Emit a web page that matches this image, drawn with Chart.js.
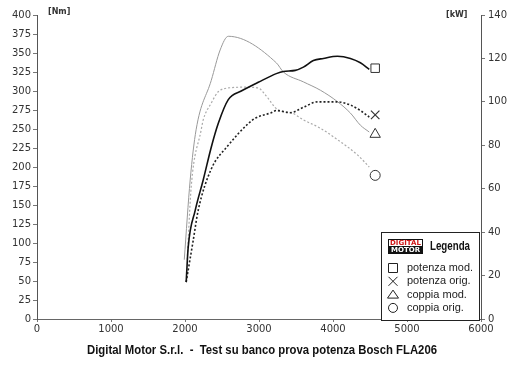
<!DOCTYPE html>
<html>
<head>
<meta charset="utf-8">
<script src="https://cdn.jsdelivr.net/npm/chart.js@4/dist/chart.umd.min.js"></script>
<style>
  html, body { margin: 0; padding: 0; background: #fff; }
  #wrap { width: 520px; height: 367px; }
</style>
</head>
<body>
<div id="wrap"><canvas id="bench" width="520" height="367"></canvas></div>
<script>
// Data
const rpmPotMod = [2016, 2043, 2138, 2246, 2354, 2449, 2585, 2760, 2990, 3234, 3330, 3490, 3600, 3735, 3870, 4060, 4235, 4370, 4490];
const potMod    = [17, 33, 50, 64, 79, 90, 101, 105, 109, 113, 114, 114.5, 116, 119, 120, 121, 120, 118, 115];

const rpmPotOrig = [2016, 2110, 2178, 2354, 2585, 2855, 2950, 3165, 3234, 3425, 3600, 3790, 4060, 4235, 4370, 4490];
const potOrig    = [17, 36, 50, 69, 80, 90, 92.5, 95, 96, 95, 97.5, 100, 100, 98.5, 96, 93];

const rpmCopMod = [1990, 2070, 2150, 2355, 2475, 2585, 3235, 3330, 3600, 3830, 4060, 4235, 4370, 4490];
const copMod    = [78, 183, 249, 314, 354, 372, 337, 325, 312, 301, 286, 271, 255, 246];

const rpmCopOrig = [2030, 2084, 2219, 2246, 2354, 2449, 2585, 2815, 2990, 3085, 3260, 3425, 3600, 3830, 4060, 4330, 4490];
const copOrig    = [78, 174, 249, 262, 284, 299, 304, 305, 304, 295, 275, 272, 262, 251, 236, 216, 200];

// end-of-curve markers
const markerRpm = 4570;
const markerPotMod = 115.5;
const markerPotOrig = 94;
const markerCopMod = 243;
const markerCopOrig = 189;

const legendLabels = ['potenza mod.', 'potenza orig.', 'coppia mod.', 'coppia orig.'];
const legendSymbols = ['rect', 'cross', 'triangle', 'circle'];

function toPoints(xs, ys) {
  return xs.map((x, i) => ({ x: x, y: ys[i] }));
}

const tickFont = { family: 'DejaVu Sans', size: 10 };

function drawSymbol(ctx, kind, cx, cy, r) {
  ctx.beginPath();
  if (kind === 'rect') {
    ctx.rect(cx - r, cy - r, 2 * r, 2 * r);
  } else if (kind === 'cross') {
    ctx.moveTo(cx - r, cy - r); ctx.lineTo(cx + r, cy + r);
    ctx.moveTo(cx + r, cy - r); ctx.lineTo(cx - r, cy + r);
  } else if (kind === 'triangle') {
    ctx.moveTo(cx, cy - r); ctx.lineTo(cx + r + 1, cy + r - 1); ctx.lineTo(cx - r - 1, cy + r - 1); ctx.closePath();
  } else {
    ctx.arc(cx, cy, r, 0, Math.PI * 2);
  }
  ctx.stroke();
}

// Legend box, units and title drawn on top of the chart
const decorPlugin = {
  id: 'decor',
  afterDraw(chart) {
    const ctx = chart.ctx;
    ctx.save();

    // units
    ctx.fillStyle = '#333';
    ctx.font = 'bold 8px "DejaVu Sans"';
    ctx.textBaseline = 'middle';
    ctx.textAlign = 'left';
    ctx.fillText('[Nm]', 48, 12);
    ctx.fillText('[kW]', 446, 15);

    // title
    ctx.fillStyle = '#111';
    ctx.font = 'bold 13px "Liberation Sans"';
    ctx.textAlign = 'center';
    ctx.fillText('Digital Motor S.r.l.  -  Test su banco prova potenza Bosch FLA206', 262, 350, 350);

    // legend box
    ctx.fillStyle = '#fff';
    ctx.fillRect(381, 232, 98, 88);
    ctx.strokeStyle = '#222';
    ctx.lineWidth = 1;
    ctx.strokeRect(381.5, 232.5, 98, 88);

    // logo
    ctx.fillStyle = '#111';
    ctx.fillRect(388, 239, 35, 15);
    ctx.fillStyle = '#fff';
    ctx.fillRect(389, 240, 33, 6);
    ctx.font = 'bold 7px "DejaVu Sans"';
    ctx.fillStyle = '#d01818';
    ctx.fillText('DIGITAL', 405.5, 243.5, 32);
    ctx.fillStyle = '#fff';
    ctx.fillText('MOTOR', 405.5, 250.5, 32);

    ctx.fillStyle = '#111';
    ctx.font = 'bold 12px "Liberation Sans"';
    ctx.textAlign = 'left';
    ctx.fillText('Legenda', 430, 247, 40);

    ctx.font = '11px "Liberation Sans"';
    ctx.strokeStyle = '#222';
    legendLabels.forEach((label, i) => {
      const y = 268 + i * 13.3;
      drawSymbol(ctx, legendSymbols[i], 393, y, 4.5);
      ctx.fillStyle = '#222';
      ctx.fillText(label, 407, y, 66);
    });
    ctx.restore();
  }
};

new Chart(document.getElementById('bench').getContext('2d'), {
  type: 'line',
  data: {
    datasets: [
      {
        label: 'potenza mod.',
        data: toPoints(rpmPotMod, potMod),
        yAxisID: 'y1',
        borderColor: '#111',
        borderWidth: 1.6,
        pointRadius: 0,
        cubicInterpolationMode: 'monotone'
      },
      {
        label: 'potenza orig.',
        data: toPoints(rpmPotOrig, potOrig),
        yAxisID: 'y1',
        borderColor: '#222',
        borderWidth: 1.6,
        borderDash: [2, 2],
        pointRadius: 0,
        cubicInterpolationMode: 'monotone'
      },
      {
        label: 'coppia mod.',
        data: toPoints(rpmCopMod, copMod),
        yAxisID: 'y',
        borderColor: '#999',
        borderWidth: 1,
        pointRadius: 0,
        cubicInterpolationMode: 'monotone'
      },
      {
        label: 'coppia orig.',
        data: toPoints(rpmCopOrig, copOrig),
        yAxisID: 'y',
        borderColor: '#aaa',
        borderWidth: 1.2,
        borderDash: [2, 2],
        pointRadius: 0,
        cubicInterpolationMode: 'monotone'
      },
      {
        label: 'marker potenza mod.',
        data: [{ x: markerRpm, y: markerPotMod }],
        yAxisID: 'y1',
        showLine: false,
        pointStyle: 'rect',
        pointRadius: 6,
        borderColor: '#333',
        borderWidth: 1,
        backgroundColor: 'rgba(0,0,0,0)'
      },
      {
        label: 'marker potenza orig.',
        data: [{ x: markerRpm, y: markerPotOrig }],
        yAxisID: 'y1',
        showLine: false,
        pointStyle: 'crossRot',
        pointRadius: 6,
        borderColor: '#333',
        borderWidth: 1.2,
        backgroundColor: 'rgba(0,0,0,0)'
      },
      {
        label: 'marker coppia mod.',
        data: [{ x: markerRpm, y: markerCopMod }],
        yAxisID: 'y',
        showLine: false,
        pointStyle: 'triangle',
        pointRadius: 6,
        borderColor: '#333',
        borderWidth: 1,
        backgroundColor: 'rgba(0,0,0,0)'
      },
      {
        label: 'marker coppia orig.',
        data: [{ x: markerRpm, y: markerCopOrig }],
        yAxisID: 'y',
        showLine: false,
        pointStyle: 'circle',
        pointRadius: 5,
        borderColor: '#333',
        borderWidth: 1,
        backgroundColor: 'rgba(0,0,0,0)'
      }
    ]
  },
  options: {
    responsive: false,
    animation: false,
    layout: { padding: { top: 15, left: 0, right: 0, bottom: 0 } },
    plugins: {
      legend: { display: false },
      tooltip: { enabled: false }
    },
    scales: {
      x: {
        type: 'linear',
        min: 0,
        max: 6000,
        ticks: {
          stepSize: 1000, color: '#333', font: tickFont, padding: 1, maxRotation: 0,
          callback: v => String(v)
        },
        grid: { drawOnChartArea: false, tickLength: 3, color: '#777' },
        border: { color: '#666', width: 1 },
        afterFit: s => { s.height = 48; }
      },
      y: {
        position: 'left',
        min: 0,
        max: 400,
        ticks: { stepSize: 25, color: '#333', font: tickFont, padding: 2 },
        grid: { drawOnChartArea: false, tickLength: 4, color: '#777' },
        border: { color: '#555', width: 1 },
        afterFit: s => { s.width = 37; }
      },
      y1: {
        position: 'right',
        min: 0,
        max: 140,
        ticks: { stepSize: 20, color: '#333', font: tickFont, padding: 3 },
        grid: { drawOnChartArea: false, tickLength: 4, color: '#777' },
        border: { color: '#555', width: 1 },
        afterFit: s => { s.width = 39; }
      }
    }
  },
  plugins: [decorPlugin]
});
</script>
</body>
</html>
